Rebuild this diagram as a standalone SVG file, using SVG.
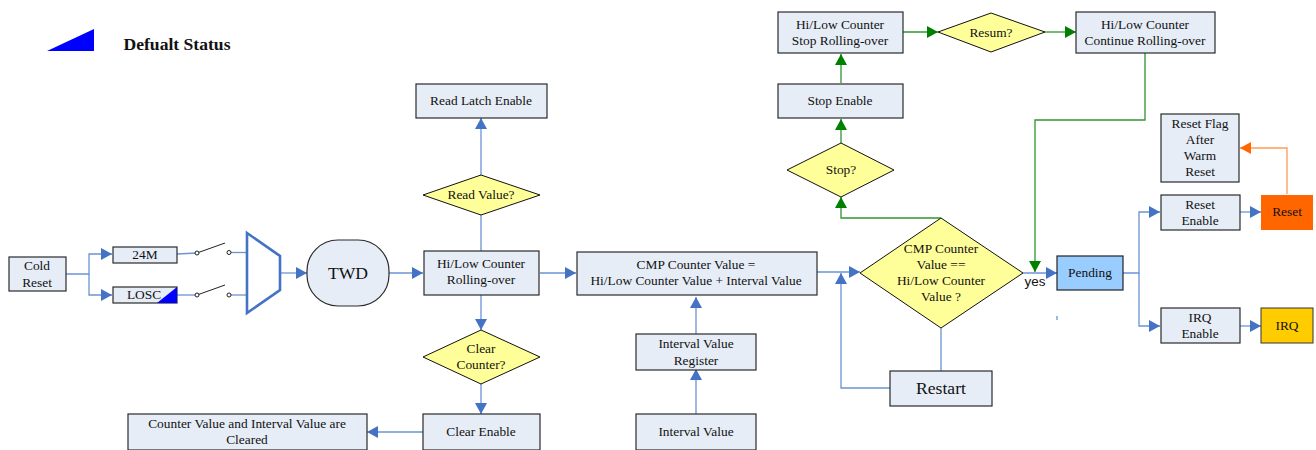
<svg xmlns="http://www.w3.org/2000/svg" width="1316" height="450" viewBox="0 0 1316 450">
<style>
text{font-family:"Liberation Serif","Times New Roman",serif;font-size:13.4px;fill:#111;text-anchor:middle}
.big{font-size:17.6px}
.b{fill:#e6edf7;stroke:#2a2a2a;stroke-width:1.2}
.d{fill:#ffff99;stroke:#111;stroke-width:1}
.c{fill:none;stroke:#6b93d6;stroke-width:1.3}
.g{fill:none;stroke:#2f952f;stroke-width:1.3}
.o{fill:none;stroke:#ff9a55;stroke-width:1.3}
.k{fill:none;stroke:#222;stroke-width:1}
.s{fill:#fff;stroke:#222;stroke-width:1}
</style>
<defs>
<marker id="ab" markerUnits="userSpaceOnUse" markerWidth="12" markerHeight="12" refX="11" refY="6" orient="auto"><path d="M0 0L11 6L0 12z" fill="#4472c4"/></marker>
<marker id="ag" markerUnits="userSpaceOnUse" markerWidth="12" markerHeight="12" refX="11" refY="6" orient="auto"><path d="M0 0L11 6L0 12z" fill="#008000"/></marker>
<marker id="ao" markerUnits="userSpaceOnUse" markerWidth="12" markerHeight="12" refX="11" refY="6" orient="auto"><path d="M0 0L11 6L0 12z" fill="#ff6600"/></marker>
</defs>
<g id="connectors">
<path class="c" d="M66 274H89V254H112" marker-end="url(#ab)"/>
<path class="c" d="M89 274V295H112" marker-end="url(#ab)"/>
<path class="c" d="M177 254L197 253"/>
<path class="c" d="M177 295H197"/>
<path class="c" d="M229 252.500H247"/>
<path class="c" d="M229 295H247"/>
<path class="k" d="M197 253L225 243"/>
<path class="k" d="M197 295L225 285"/>
<path class="c" d="M281 273H307" marker-end="url(#ab)"/>
<path class="c" d="M389 273H423" marker-end="url(#ab)"/>
<path class="c" d="M540 273H576" marker-end="url(#ab)"/>
<path class="c" d="M481 251V118" marker-end="url(#ab)"/>
<path class="c" d="M481 295V330" marker-end="url(#ab)"/>
<path class="c" d="M481 384V414" marker-end="url(#ab)"/>
<path class="c" d="M423 432H367" marker-end="url(#ab)"/>
<path class="c" d="M696 414V369" marker-end="url(#ab)"/>
<path class="c" d="M696 334V297" marker-end="url(#ab)"/>
<path class="c" d="M817 272H860" marker-end="url(#ab)"/>
<path class="c" d="M941 328V371"/>
<path class="c" d="M890 388H841V273" marker-end="url(#ab)"/>
<path class="c" d="M1023 273H1057" marker-end="url(#ab)"/>
<path class="c" d="M1057 316V320"/>
<path class="c" d="M1123 273H1139V212H1160" marker-end="url(#ab)"/>
<path class="c" d="M1139 273V326H1160" marker-end="url(#ab)"/>
<path class="c" d="M1240 212H1261" marker-end="url(#ab)"/>
<path class="c" d="M1240 326H1261" marker-end="url(#ab)"/>
<path class="o" d="M1287 194V148H1240" marker-end="url(#ao)"/>
<path class="g" d="M941 218H841V197" marker-end="url(#ag)"/>
<path class="g" d="M841 143V119" marker-end="url(#ag)"/>
<path class="g" d="M841 83V54" marker-end="url(#ag)"/>
<path class="g" d="M903 32H938" marker-end="url(#ag)"/>
<path class="g" d="M1045 32H1076" marker-end="url(#ag)"/>
<path class="g" d="M1145 53V120H1035V272" marker-end="url(#ag)"/>
</g>
<g id="legend"><path d="M47 51L94 29V51z" fill="#0000ff"/><text x="177" y="50" class="big" style="font-weight:bold">Defualt Status</text></g>
<g id="cold-reset"><rect class="b" x="9" y="257" width="57" height="34"/><text x="37" y="270">Cold</text><text x="37" y="287">Reset</text></g>
<g id="clk-24m"><rect class="b" x="113" y="247" width="64" height="16"/><text x="145" y="259">24M</text></g>
<g id="clk-losc"><rect class="b" x="113" y="287" width="64" height="16"/><text x="144" y="299">LOSC</text><path d="M157 303L177 287V303z" fill="#0000ff"/></g>
<g id="switch-1"><circle class="s" cx="197" cy="253" r="2"/><circle class="s" cx="229" cy="252.500" r="2"/></g>
<g id="switch-2"><circle class="s" cx="197" cy="295" r="2"/><circle class="s" cx="229" cy="295" r="2"/></g>
<g id="mux"><path d="M247 233L280 256V290L247 313z" fill="#fff" stroke="#4472c4" stroke-width="2.6"/></g>
<g id="twd"><rect class="b" x="307" y="240" width="82" height="66" rx="31"/><text x="348" y="279" class="big">TWD</text></g>
<g id="read-latch"><rect class="b" x="416" y="84" width="131" height="34"/><text x="481" y="105">Read Latch Enable</text></g>
<g id="read-value"><path class="d" d="M481 175L540 195L481 215L423 195z"/><text x="481" y="199">Read Value?</text></g>
<g id="rolling"><rect class="b" x="424" y="251" width="115" height="44"/><text x="481" y="268">Hi/Low Counter</text><text x="481" y="284">Rolling-over</text></g>
<g id="clear-counter"><path class="d" d="M481 330L540 357L481 384L423 357z"/><text x="481" y="353">Clear</text><text x="481" y="369">Counter?</text></g>
<g id="clear-enable"><rect class="b" x="423" y="414" width="117" height="36"/><text x="481" y="436">Clear Enable</text></g>
<g id="cleared"><rect class="b" x="128" y="414" width="239" height="36"/><text x="247" y="428">Counter Value and Interval Value are</text><text x="247" y="444">Cleared</text></g>
<g id="cmp-sum"><rect class="b" x="577" y="252" width="240" height="43"/><text x="696" y="269">CMP Counter Value =</text><text x="696" y="285">Hi/Low Counter Value + Interval Value</text></g>
<g id="interval-reg"><rect class="b" x="636" y="334" width="120" height="36"/><text x="696" y="348">Interval Value</text><text x="696" y="365">Register</text></g>
<g id="interval-value"><rect class="b" x="636" y="414" width="120" height="36"/><text x="696" y="436">Interval Value</text></g>
<g id="cmp"><path class="d" d="M941 218L1023 273L941 328L860 273z"/><text x="941" y="253">CMP Counter</text><text x="941" y="269">Value ==</text><text x="941" y="285">Hi/Low Counter</text><text x="941" y="301">Value ?</text></g>
<g id="restart"><rect class="b" x="890" y="371" width="102" height="35"/><text x="941" y="394" class="big">Restart</text></g>
<text x="1035" y="286" style="font-family:'Liberation Sans',Arial,sans-serif;font-size:13.4px">yes</text>
<g id="pending"><rect x="1057" y="256" width="66" height="34" fill="#99ccff" stroke="#222" stroke-width="1.2"/><text x="1090" y="277">Pending</text></g>
<g id="stop"><path class="d" d="M841 143L894 170L841 197L787 170z"/><text x="841" y="174">Stop?</text></g>
<g id="stop-enable"><rect class="b" x="778" y="84" width="125" height="34"/><text x="840" y="105">Stop Enable</text></g>
<g id="stop-rolling"><rect class="b" x="778" y="12" width="125" height="41"/><text x="840" y="29">Hi/Low Counter</text><text x="840" y="45">Stop Rolling-over</text></g>
<g id="resume"><path class="d" d="M991 13L1045 32L991 52L938 32z"/><text x="991" y="37">Resum?</text></g>
<g id="continue"><rect class="b" x="1076" y="12" width="139" height="41"/><text x="1145" y="29">Hi/Low Counter</text><text x="1145" y="45">Continue Rolling-over</text></g>
<g id="flag"><rect class="b" x="1161" y="114" width="78" height="68"/><text x="1200" y="128">Reset Flag</text><text x="1200" y="144">After</text><text x="1200" y="160">Warm</text><text x="1200" y="176">Reset</text></g>
<g id="reset-enable"><rect class="b" x="1161" y="195" width="79" height="35"/><text x="1200" y="209">Reset</text><text x="1200" y="225">Enable</text></g>
<g id="reset"><rect x="1261" y="195" width="52" height="35" fill="#ff6600"/><text x="1287" y="216">Reset</text></g>
<g id="irq-enable"><rect class="b" x="1161" y="308" width="79" height="35"/><text x="1200" y="322">IRQ</text><text x="1200" y="338">Enable</text></g>
<g id="irq"><rect x="1261" y="308" width="52" height="35" fill="#ffcc00" stroke="#333"/><text x="1287" y="330">IRQ</text></g>
</svg>
